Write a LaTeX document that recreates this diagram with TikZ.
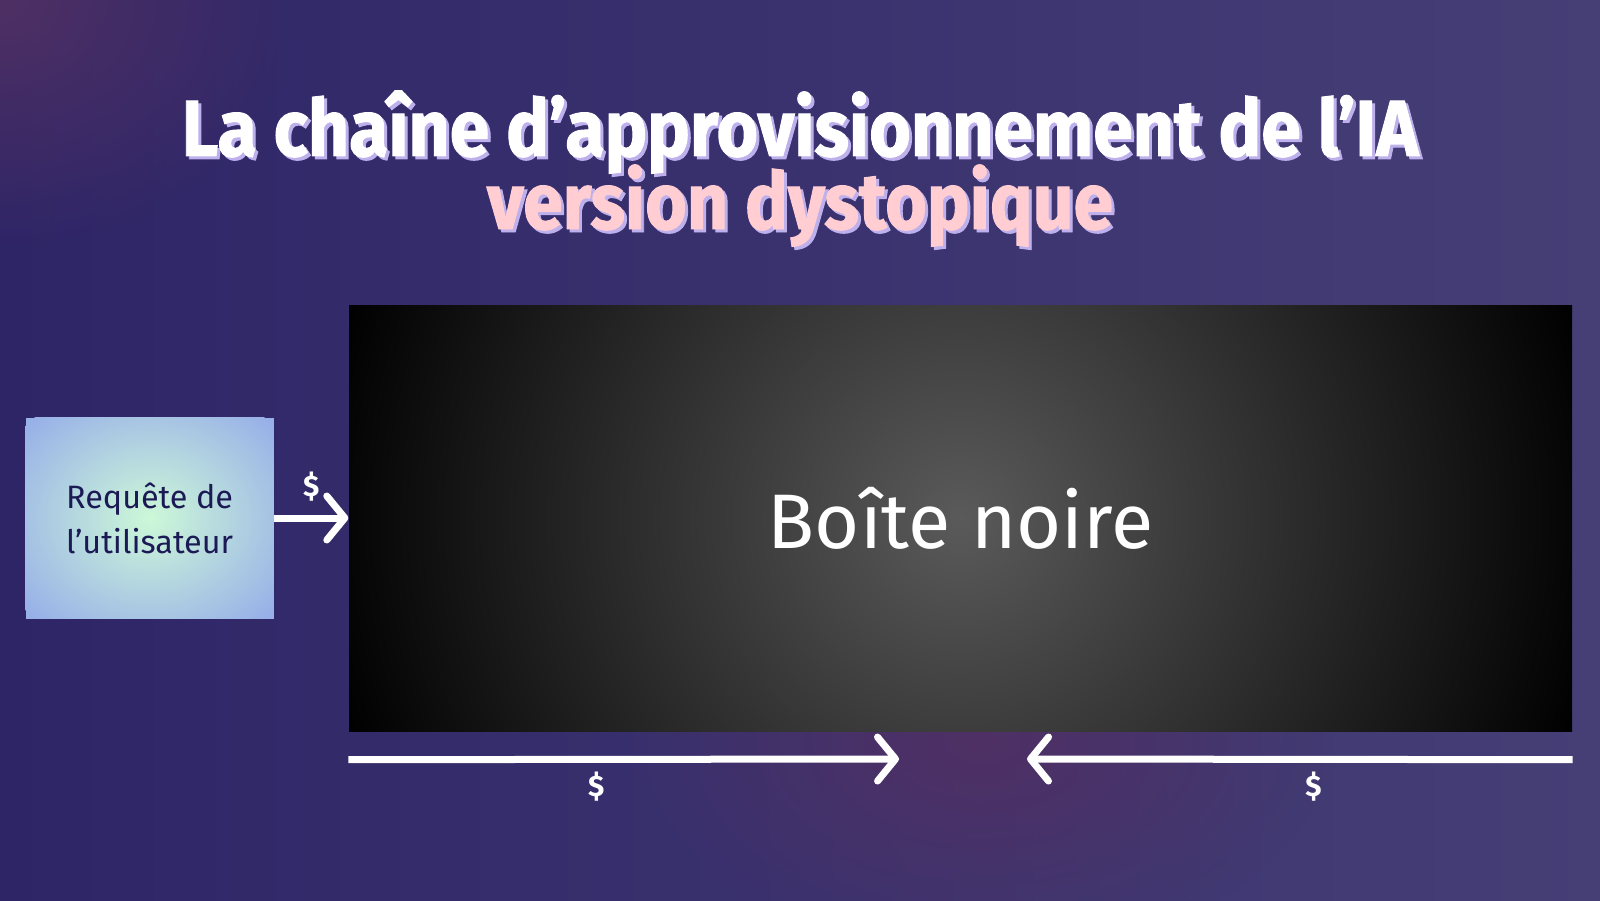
\documentclass[tikz,border=0pt]{standalone}
\usepackage{fontspec}
\setmainfont{Fira Sans}
\newfontfamily\headfont{Fira Sans}[FakeStretch=0.9, FakeBold=1.2]
\usetikzlibrary{arrows.meta,positioning,fadings}

\definecolor{bgleft}{HTML}{2E2567}
\definecolor{bgright}{HTML}{463F76}
\definecolor{bgpink}{HTML}{4F3064}
\definecolor{inkblue}{HTML}{1B1A55}
\definecolor{mint}{HTML}{CDF8D8}
\definecolor{periwinkle}{HTML}{98B0E8}
\definecolor{blush}{HTML}{FFCDD2}
\definecolor{lavender}{HTML}{BDB0EC}
\definecolor{glowgray}{HTML}{5A5A5A}

\pgfdeclareradialshading{glow}{\pgfpointorigin}{color(0bp)=(glowgray); color(25bp)=(black); color(50bp)=(black)}
\pgfdeclareradialshading{mintglow}{\pgfpointorigin}{color(0bp)=(mint); color(25bp)=(periwinkle); color(50bp)=(periwinkle)}
\tikzfading[name=softspot, inner color=transparent!0, outer color=transparent!100]

\begin{document}
\begin{tikzpicture}[
  node distance=7.4mm,
  box/.style={minimum width=2.48cm, minimum height=2.01cm, inner sep=0pt, align=center, text=inkblue,
    fill=periwinkle, path picture={\shade[shading=mintglow] (path picture bounding box.center) ellipse (1.65cm and 1.4cm);},
    font=\fontsize{9.2}{12.8}\selectfont},
  blackbox/.style={minimum width=12.23cm, minimum height=4.26cm, inner sep=0pt, text=white, fill=black,
    path picture={\shade[shading=glow] (path picture bounding box.center) circle (6.5cm);},
    font=\fontsize{22}{26}\selectfont},
  arr/.style={white, line width=0.07cm, -{Straight Barb[length=1.8mm, width=4.4mm, round]}},
  money/.style={text=white, inner sep=1pt, font=\bfseries\fontsize{8.4}{9}\selectfont},
  heading/.style={anchor=base, inner sep=0pt, font=\headfont\bfseries\fontsize{22.6}{24}\selectfont}
]
  % background
  \useasboundingbox (0,0) rectangle (16,9);
  \begin{scope}
    \clip (0,0) rectangle (16,9);
    \shade[left color=bgleft, right color=bgright] (0,0) rectangle (16,9);
    \fill[bgpink, path fading=softspot] (9.8,1.6) ellipse (3.5cm and 2.2cm);
    \fill[bgpink, path fading=softspot] (0,9) ellipse (3cm and 2.5cm);
  \end{scope}

  % title
  \node[heading, text=lavender] at (8.03,7.41) {La chaîne d’approvisionnement de l’IA};
  \node[heading, text=white] (title) at (8,7.44) {La chaîne d’approvisionnement de l’IA};
  \node[heading, text=lavender] at (8.03,6.68) {version dystopique};
  \node[heading, text=blush] (subtitle) at (8,6.71) {version dystopique};

  % boxes
  \node[blackbox] (bb) at (9.605,3.82) {Boîte noire};
  \node[box, left=of bb] (user) {Requête de\\l’utilisateur};

  \coordinate[below=2.8mm of bb.south west] (payA);
  \coordinate[below=2.8mm of bb.south east] (payB);
  \coordinate (midA) at (8.99,1.41);
  \coordinate (midB) at (10.27,1.41);

  % money flows
  \draw[arr] (user) -- node[money, above=1mm] {\$} (bb);
  \draw[arr] (payA) -- node[money, pos=0.45, below=0.6mm] {\$} (midA);
  \draw[arr] (payB) -- node[money, pos=0.475, below=0.6mm] {\$} (midB);
\end{tikzpicture}
\end{document}
